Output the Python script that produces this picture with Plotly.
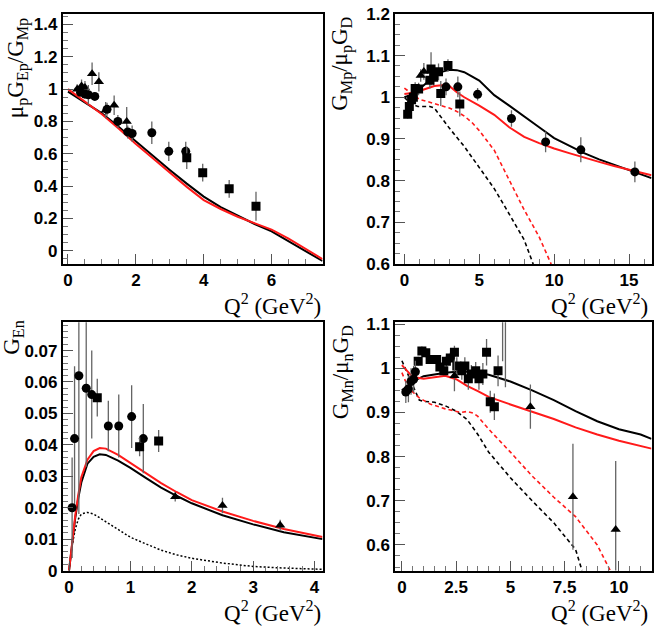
import plotly.graph_objects as go

W, H = 654, 631

# ---- panel 1: mu_p G_Ep / G_Mp ----
p1_tri_x = [0.27, 0.40, 0.50, 0.71, 0.91, 1.11, 1.36, 1.73]
p1_tri_y = [1.00, 1.02, 1.01, 1.095, 1.045, 0.87, 0.90, 0.80]
p1_tri_e = [0.03, 0.04, 0.04, 0.07, 0.06, 0.05, 0.06, 0.09]
p1_circ_x = [0.37, 0.50, 0.60, 0.79, 1.15, 1.47, 1.76, 1.89, 2.47, 2.97, 3.47]
p1_circ_y = [0.98, 0.97, 0.965, 0.955, 0.875, 0.80, 0.735, 0.725, 0.73, 0.615, 0.615]
p1_circ_e = [0.02, 0.03, 0.06, 0.02, 0.04, 0.04, 0.04, 0.05, 0.07, 0.06, 0.06]
p1_sq_x = [3.50, 3.97, 4.75, 5.54]
p1_sq_y = [0.575, 0.483, 0.383, 0.275]
p1_sq_e = [0.07, 0.055, 0.055, 0.09]
p1_q = [0, 0.5, 1, 1.5, 2, 2.5, 3, 3.5, 4, 4.5, 5, 5.5, 6, 6.5, 7, 7.5]
p1_black = [0.985, 0.92, 0.85, 0.765, 0.675, 0.59, 0.50, 0.415, 0.335, 0.27, 0.215, 0.165, 0.12, 0.06, -0.002, -0.064]
p1_red = [1.0, 0.925, 0.845, 0.755, 0.66, 0.572, 0.483, 0.395, 0.313, 0.258, 0.21, 0.168, 0.13, 0.075, 0.012, -0.052]

# ---- panel 2: G_Mp / mu_p G_D ----
p2_circ_x = [2.78, 3.57, 4.89, 7.15, 9.43, 11.78, 15.39]
p2_circ_y = [1.025, 1.025, 1.007, 0.949, 0.893, 0.874, 0.821]
p2_circ_e = [0.02, 0.025, 0.015, 0.02, 0.025, 0.03, 0.025]
p2_sq_x = [0.22, 0.33, 0.48, 0.60, 0.72, 0.95, 1.70, 1.78, 1.96, 2.28, 2.43, 2.91, 3.70]
p2_sq_y = [0.959, 0.978, 0.994, 1.0, 1.021, 1.02, 1.041, 1.068, 1.048, 1.061, 1.009, 1.076, 0.984]
p2_sq_e = [0.01, 0.012, 0.012, 0.012, 0.015, 0.015, 0.02, 0.04, 0.02, 0.02, 0.03, 0.015, 0.03]
p2_tri_x = [1.09, 1.30]
p2_tri_y = [1.052, 1.062]
p2_tri_e = [0.015, 0.02]
p2_q = [0, 0.5, 1, 1.5, 2, 2.5, 3, 3.5, 4, 5, 6, 7, 8, 9, 10, 11, 12, 13, 14, 15, 16, 16.5]
p2_black = [1.0, 1.006, 1.02, 1.035, 1.05, 1.061, 1.066, 1.065, 1.06, 1.04, 1.005, 0.98, 0.955, 0.928,
            0.902, 0.884, 0.866, 0.851, 0.838, 0.824, 0.812, 0.806]
p2_red = [1.008, 1.01, 1.015, 1.021, 1.027, 1.029, 1.027, 1.012, 1.0, 0.98, 0.958, 0.928, 0.905, 0.89,
          0.877, 0.866, 0.855, 0.845, 0.835, 0.826, 0.817, 0.813]
p2_rdash_q = [0, 0.5, 1, 1.5, 2, 2.5, 3, 3.5, 4, 4.5, 5, 6, 7, 8, 9, 9.8]
p2_rdash = [1.022, 1.008, 0.995, 0.99, 0.985, 0.979, 0.974, 0.966, 0.955, 0.94, 0.92, 0.873, 0.80, 0.73, 0.665, 0.60]
p2_bdash_q = [0, 0.4, 0.9, 1.7, 2, 2.5, 3, 4, 5, 6, 7, 8, 8.6]
p2_bdash = [1.0, 0.985, 0.978, 0.978, 0.974, 0.95, 0.926, 0.882, 0.831, 0.781, 0.72, 0.658, 0.60]

# ---- panel 3: G_En ----
p3_circ_x = [0.05, 0.09, 0.16, 0.28, 0.37, 0.64, 0.81, 1.02, 1.21]
p3_circ_y = [0.020, 0.042, 0.062, 0.058, 0.056, 0.046, 0.046, 0.049, 0.042]
p3_circ_e = [0.016, 0.023, 0.044, 0.025, 0.014, 0.008, 0.01, 0.01, 0.011]
p3_sq_x = [0.46, 1.15, 1.46]
p3_sq_y = [0.055, 0.0394, 0.0412]
p3_sq_e = [0.006, 0.003, 0.0035]
p3_tri_x = [1.73, 2.50, 3.44]
p3_tri_y = [0.0235, 0.0207, 0.0144]
p3_tri_e = [0.0015, 0.0025, 0.0018]
p3_q = [0, 0.05, 0.1, 0.15, 0.2, 0.3, 0.4, 0.5, 0.6, 0.8, 1.0, 1.25, 1.5, 1.75, 2, 2.5, 3, 3.5, 4, 4.13]
p3_red = [0, 0.009, 0.0173, 0.024, 0.0297, 0.0353, 0.038, 0.039, 0.0388, 0.0368, 0.0343, 0.031,
          0.0278, 0.025, 0.0224, 0.0188, 0.0158, 0.0132, 0.0111, 0.0107]
p3_black = [0, 0.0085, 0.0165, 0.023, 0.028, 0.034, 0.0362, 0.037, 0.0368, 0.035, 0.0327, 0.0295,
            0.0264, 0.0238, 0.0214, 0.0176, 0.0147, 0.0122, 0.0104, 0.0100]
p3_dot = [0, 0.008, 0.013, 0.0163, 0.018, 0.0185, 0.018, 0.0168, 0.0155, 0.013, 0.0106, 0.0085,
          0.0065, 0.005, 0.0039, 0.0024, 0.0013, 0.0008, 0.0005, 0.0004]

# ---- panel 4: G_Mn / mu_n G_D ----
p4_sq_x = [0.75, 0.92, 1.10, 1.30, 1.60, 1.75, 1.93, 2.05, 2.23, 2.42, 2.53, 2.76, 2.90, 3.06, 3.20,
           3.40, 3.55, 3.73, 3.90, 4.07, 4.26, 4.43, 4.64, 4.77]
p4_sq_y = [1.016, 1.039, 1.035, 1.02, 1.02, 1.003, 0.994, 1.016, 1.023, 1.036, 1.005, 0.994, 1.005,
           0.976, 0.987, 0.994, 0.976, 0.987, 1.036, 0.924, 0.913, 0.994, 1.15, 1.20]
p4_sq_e = [0.01, 0.01, 0.01, 0.01, 0.01, 0.01, 0.01, 0.012, 0.012, 0.015, 0.02, 0.02, 0.02, 0.025,
           0.02, 0.02, 0.025, 0.025, 0.03, 0.025, 0.03, 0.035, 0.134, 0.243]
p4_circ_x = [0.18, 0.30, 0.42, 0.54, 0.62]
p4_circ_y = [0.946, 0.953, 0.970, 0.975, 0.992]
p4_circ_e = [0.025, 0.03, 0.03, 0.03, 0.025]
p4_tri_x = [2.42, 5.92, 7.88, 9.85]
p4_tri_y = [0.983, 0.913, 0.709, 0.635]
p4_tri_e = [0.035, 0.05, 0.12, 0.155]
p4_q = [0, 0.5, 1, 1.5, 2, 2.5, 3, 3.5, 4, 5, 6, 7, 8, 9, 10, 11, 11.5]
p4_black = [0.95, 0.97, 0.982, 0.986, 0.99, 0.992, 0.992, 0.99, 0.985, 0.97, 0.95, 0.928, 0.903,
            0.88, 0.862, 0.85, 0.84]
p4_red = [1.007, 0.98, 0.976, 0.98, 0.983, 0.975, 0.96, 0.948, 0.935, 0.918, 0.902, 0.885, 0.866,
          0.85, 0.836, 0.824, 0.818]
p4_bdash_q = [0, 0.5, 0.8, 1, 1.5, 2, 2.5, 3, 3.5, 4, 5, 6, 7, 8, 8.3]
p4_bdash = [1.017, 0.96, 0.928, 0.925, 0.923, 0.915, 0.903, 0.884, 0.85, 0.81, 0.752, 0.70, 0.65, 0.59, 0.542]
p4_rdash_q = [0, 0.3, 0.8, 1.3, 2, 2.7, 3, 3.3, 3.5, 4, 5, 6, 7, 8, 9, 9.6]
p4_rdash = [0.99, 0.955, 0.933, 0.919, 0.908, 0.90, 0.902, 0.898, 0.891, 0.862, 0.81, 0.756, 0.708,
            0.664, 0.60, 0.542]

RED = "#ff1a1a"
ERR = "rgb(100,100,100)"


def px_x(p):
    return p / W


def px_y(p):
    return 1 - p / H


fig = go.Figure()


def points(ax, x, y, e, symbol):
    fig.add_trace(go.Scatter(
        x=x, y=y, mode="markers", xaxis="x" + ax, yaxis="y" + ax,
        marker=dict(symbol=symbol, size=9, color="black"),
        error_y=dict(type="data", array=e, width=0, thickness=1.3, color=ERR),
        showlegend=False))


def curve(ax, x, y, color, dash="solid", width=2):
    fig.add_trace(go.Scatter(
        x=x, y=y, mode="lines", xaxis="x" + ax, yaxis="y" + ax,
        line=dict(color=color, width=width, dash=dash), showlegend=False))


# panel 1
curve("", p1_q, p1_black, "black")
curve("", p1_q, p1_red, RED)
points("", p1_tri_x, p1_tri_y, p1_tri_e, "triangle-up")
points("", p1_circ_x, p1_circ_y, p1_circ_e, "circle")
points("", p1_sq_x, p1_sq_y, p1_sq_e, "square")

# panel 2
curve("2", p2_bdash_q, p2_bdash, "black", "4px,3px", 1.6)
curve("2", p2_rdash_q, p2_rdash, RED, "4px,3px", 1.6)
curve("2", p2_q, p2_black, "black")
curve("2", p2_q, p2_red, RED)
points("2", p2_sq_x, p2_sq_y, p2_sq_e, "square")
points("2", p2_tri_x, p2_tri_y, p2_tri_e, "triangle-up")
points("2", p2_circ_x, p2_circ_y, p2_circ_e, "circle")

# panel 3
curve("3", p3_q, p3_dot, "black", "2px,2px", 1.5)
curve("3", p3_q, p3_black, "black")
curve("3", p3_q, p3_red, RED)
points("3", p3_circ_x, p3_circ_y, p3_circ_e, "circle")
points("3", p3_sq_x, p3_sq_y, p3_sq_e, "square")
points("3", p3_tri_x, p3_tri_y, p3_tri_e, "triangle-up")

# panel 4
curve("4", p4_bdash_q, p4_bdash, "black", "4px,3px", 1.6)
curve("4", p4_rdash_q, p4_rdash, RED, "4px,3px", 1.6)
curve("4", p4_q, p4_black, "black")
curve("4", p4_q, p4_red, RED)
points("4", p4_sq_x, p4_sq_y, p4_sq_e, "square")
points("4", p4_circ_x, p4_circ_y, p4_circ_e, "circle")
points("4", p4_tri_x, p4_tri_y, p4_tri_e, "triangle-up")

tickfont = dict(family="Liberation Sans, Arial", size=17, color="black", weight="bold")


def axis(domain, rng, dtick, minor, anchor):
    return dict(domain=domain, range=rng, dtick=dtick, tick0=0, anchor=anchor,
                showline=True, linecolor="black", linewidth=2, mirror=True,
                ticks="inside", ticklen=10, tickcolor="#555", tickwidth=1,
                minor=dict(dtick=minor, ticks="inside", ticklen=5, tickcolor="#777", tickwidth=1),
                showgrid=False, zeroline=False, tickfont=tickfont)


xl = [px_x(63), px_x(323)]
xr = [px_x(396), px_x(652.5)]
yt = [px_y(263), px_y(5)]
yb = [px_y(579), px_y(323)]

fig.update_layout(
    width=W, height=H, margin=dict(l=0, r=0, t=0, b=0),
    paper_bgcolor="white", plot_bgcolor="white",
    xaxis=axis(xl, [-0.15, 7.5], 2, 0.5, "y"),
    yaxis=axis(yt, [-0.083, 1.466], 0.2, 0.05, "x"),
    xaxis2=axis(xr, [-0.6, 16.5], 5, 1, "y2"),
    yaxis2=axis(yt, [0.6, 1.2], 0.1, 0.025, "x2"),
    xaxis3=axis(xl, [-0.1, 4.13], 1, 0.2, "y3"),
    yaxis3=axis(yb, [0, 0.079], 0.01, 0.002, "x3"),
    xaxis4=axis(xr, [-0.3, 11.5], 2.5, 0.5, "y4"),
    yaxis4=axis(yb, [0.542, 1.104], 0.1, 0.025, "x4"),
)

title_font = dict(family="Liberation Serif, Times New Roman", size=23, color="black")
qtitle = "Q<sup>2</sup> (GeV<sup>2</sup>)"
ann = [
    (qtitle, 323, 305, 0, "right"),
    (qtitle, 651, 305, 0, "right"),
    (qtitle, 323, 621, 0, "right"),
    (qtitle, 651, 621, 0, "right"),
    ("μ<sub>p</sub>G<sub>Ep</sub>/G<sub>Mp</sub>", 17, 61, -90, "center"),
    ("G<sub>Mp</sub>/μ<sub>p</sub>G<sub>D</sub>", 342, 56, -90, "center"),
    ("G<sub>En</sub>", 13, 338, -90, "center"),
    ("G<sub>Mn</sub>/μ<sub>n</sub>G<sub>D</sub>", 342, 374, -90, "center"),
]
for text, x, y, angle, xa in ann:
    fig.add_annotation(text=text, x=px_x(x), y=px_y(y), xref="paper", yref="paper",
                       showarrow=False, textangle=angle, xanchor=xa, yanchor="middle",
                       font=title_font)

fig.write_html("out.html", config={"displayModeBar": False},
               post_script="document.body.style.margin='0';document.body.style.overflow='hidden';")
